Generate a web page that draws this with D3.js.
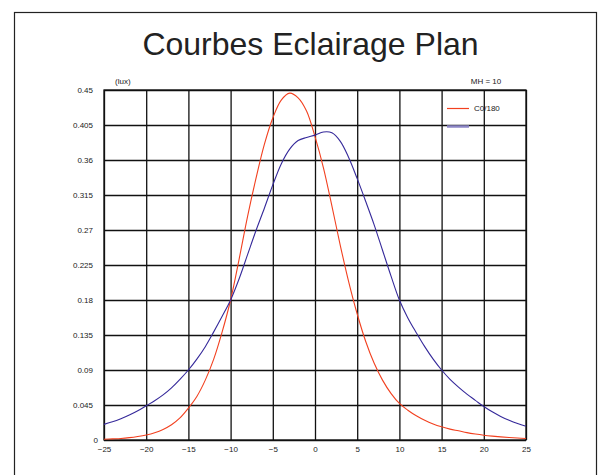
<!DOCTYPE html>
<html>
<head>
<meta charset="utf-8">
<script src="https://cdn.jsdelivr.net/npm/d3@7"></script>
<style>
  body { margin: 0; background: #fff; }
  svg { font-family: "Liberation Sans", Arial, Helvetica, sans-serif; }
</style>
</head>
<body>
<div class="container"></div>
<script>
// distances (m) along the plane
const positions = d3.range(-25, 26);

// C0/180 curve
const c0Values = [
  0.001, 0.0015, 0.002, 0.003, 0.0045, 0.0065, 0.0094, 0.0136, 0.0196, 0.0284,
  0.041, 0.056, 0.077, 0.104, 0.139, 0.18, 0.232, 0.287, 0.336, 0.38,
  0.414, 0.437, 0.446, 0.44, 0.423, 0.39, 0.35, 0.301, 0.25, 0.203,
  0.162, 0.127, 0.099, 0.077, 0.06, 0.047, 0.0383, 0.0312, 0.0254, 0.0207,
  0.017, 0.014, 0.0118, 0.0095, 0.0077, 0.0062, 0.005, 0.004, 0.0032, 0.0025,
  0.002
];

// second curve (no label in the legend)
const c90Values = [
  0.0201, 0.0234, 0.0274, 0.032, 0.0375, 0.044, 0.0505, 0.058, 0.067, 0.078,
  0.09, 0.104, 0.12, 0.139, 0.159, 0.18, 0.207, 0.238, 0.269, 0.298,
  0.328, 0.355, 0.374, 0.385, 0.389, 0.392, 0.396, 0.395, 0.384, 0.363,
  0.336, 0.307, 0.277, 0.244, 0.211, 0.18, 0.157, 0.138, 0.12, 0.104,
  0.09, 0.078, 0.068, 0.059, 0.051, 0.043, 0.0362, 0.0303, 0.0253, 0.0211,
  0.0176
];

// tick labels
const xTicks = [-25, -20, -15, -10, -5, 0, 5, 10, 15, 20, 25];
const yTicks = [0, 0.045, 0.09, 0.135, 0.18, 0.225, 0.27, 0.315, 0.36, 0.405, 0.45];

const seriesNames = ['C0/180', ''];
const seriesColors = ['#f2401f', '#35299a'];

const width = 598;
const height = 475;
const plot = {left: 104, right: 526, top: 90, bottom: 440};

const svg = d3.select('.container')
  .append('svg')
  .attr('width', width)
  .attr('height', height);

// outer frame
svg.append('rect')
  .attr('x', 14.5)
  .attr('y', 12.5)
  .attr('width', 582)
  .attr('height', 480)
  .attr('fill', 'none')
  .attr('stroke', '#222')
  .attr('stroke-width', 1.2);

svg.append('text')
  .attr('x', 310.5)
  .attr('y', 55)
  .attr('text-anchor', 'middle')
  .attr('font-size', 32)
  .attr('fill', '#222')
  .text('Courbes Eclairage Plan');

const xScale = d3.scaleLinear().domain([-25, 25]).range([plot.left, plot.right]);
const yScale = d3.scaleLinear().domain([0, 0.45]).range([plot.bottom, plot.top]);

const fmtMinus = d => d < 0 ? '\u2212' + Math.abs(d) : String(d);

// grid
svg.append('g')
  .attr('class', 'grid')
  .attr('transform', `translate(0, ${plot.bottom})`)
  .call(d3.axisBottom(xScale).tickValues(xTicks).tickSize(-(plot.bottom - plot.top)).tickFormat(''))
  .call(g => g.select('.domain').remove());

svg.append('g')
  .attr('class', 'grid')
  .attr('transform', `translate(${plot.left}, 0)`)
  .call(d3.axisLeft(yScale).tickValues(yTicks).tickSize(-(plot.right - plot.left)).tickFormat(''))
  .call(g => g.select('.domain').remove());

svg.selectAll('.grid line')
  .attr('stroke', '#111')
  .attr('stroke-width', 1.3);

svg.append('rect')
  .attr('x', plot.left)
  .attr('y', plot.top)
  .attr('width', plot.right - plot.left)
  .attr('height', plot.bottom - plot.top)
  .attr('fill', 'none')
  .attr('stroke', '#111')
  .attr('stroke-width', 1.3);

// tick labels
svg.append('g')
  .attr('transform', `translate(0, ${plot.bottom})`)
  .call(d3.axisBottom(xScale).tickValues(xTicks).tickSize(0).tickPadding(6).tickFormat(fmtMinus))
  .call(g => g.select('.domain').remove())
  .selectAll('text')
  .attr('font-size', 8)
  .attr('font-family', '"Liberation Sans", Arial, sans-serif')
  .attr('fill', '#222');

svg.append('g')
  .attr('transform', `translate(${plot.left}, 0)`)
  .call(d3.axisLeft(yScale).tickValues(yTicks).tickSize(0).tickPadding(11).tickFormat(d => String(d)))
  .call(g => g.select('.domain').remove())
  .selectAll('text')
  .attr('font-size', 8)
  .attr('font-family', '"Liberation Sans", Arial, sans-serif')
  .attr('fill', '#222')
  .attr('dx', d => d === 0 ? 5 : 0);

svg.append('text')
  .attr('x', 115)
  .attr('y', 84)
  .attr('font-size', 8)
  .attr('fill', '#222')
  .text('(lux)');

svg.append('text')
  .attr('x', 486)
  .attr('y', 84)
  .attr('text-anchor', 'middle')
  .attr('font-size', 8)
  .attr('fill', '#222')
  .text('MH = 10');

// curves
const line = d3.line()
  .x((d, i) => xScale(positions[i]))
  .y(d => yScale(d))
  .curve(d3.curveCatmullRom.alpha(0.5));

[c0Values, c90Values].forEach((values, k) => {
  svg.append('path')
    .datum(values)
    .attr('d', line)
    .attr('fill', 'none')
    .attr('stroke', seriesColors[k])
    .attr('stroke-width', 1.1);
});

// legend
const legend = svg.append('g');
legend.append('line')
  .attr('x1', 447).attr('x2', 469)
  .attr('y1', 108.5).attr('y2', 108.5)
  .attr('stroke', seriesColors[0])
  .attr('stroke-width', 1.2);
legend.append('text')
  .attr('x', 474)
  .attr('y', 111)
  .attr('font-size', 8)
  .attr('fill', '#222')
  .text(seriesNames[0]);
legend.append('line')
  .attr('x1', 447).attr('x2', 469)
  .attr('y1', 126.5).attr('y2', 126.5)
  .attr('stroke', '#8c86c6')
  .attr('stroke-width', 2.5);
legend.append('text')
  .attr('x', 474)
  .attr('y', 129)
  .attr('font-size', 8)
  .attr('fill', '#222')
  .text(seriesNames[1]);
</script>
</body>
</html>
